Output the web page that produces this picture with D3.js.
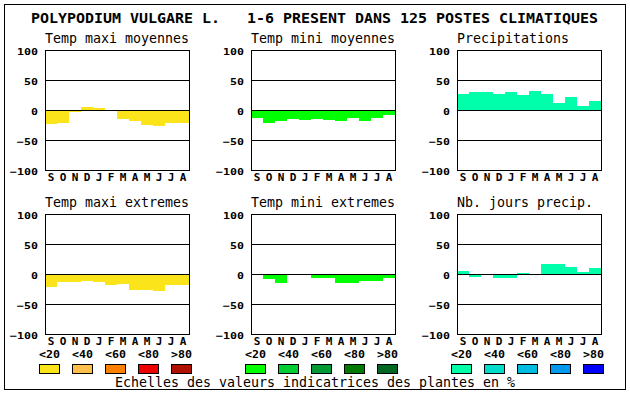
<!DOCTYPE html>
<html><head><meta charset="utf-8">
<script src="https://cdn.jsdelivr.net/npm/d3@7"></script>
<style>
html,body{margin:0;padding:0;background:#fff;}
svg{display:block;}
text{font-family:"DejaVu Sans Mono","Liberation Mono",monospace;fill:#000;}
</style></head><body>
<svg id="chart" width="630" height="394"></svg>
<script>
// ---------- data ----------
const mainTitle = "POLYPODIUM VULGARE L.   1-6 PRESENT DANS 125 POSTES CLIMATIQUES";
const months = ["S","O","N","D","J","F","M","A","M","J","J","A"];
const yTicks = [100, 50, 0, -50, -100];
const gridValues = [50, 0, -50];

const panelTitles = ["Temp maxi moyennes","Temp mini moyennes","Precipitations",
                     "Temp maxi extremes","Temp mini extremes","Nb. jours precip."];
const tempMaxiMoyennes = [-23,-21,-3,5,3,0,-15,-18,-25,-27,-22,-22];
const tempMiniMoyennes = [-13,-22,-18,-15,-17,-15,-17,-18,-13,-18,-13,-8];
const precipitations   = [27,30,30,27,30,25,32,27,12,22,7,15];
const tempMaxiExtremes = [-22,-13,-13,-12,-13,-18,-17,-27,-27,-28,-18,-18];
const tempMiniExtremes = [0,-8,-15,0,0,-7,-7,-15,-15,-12,-12,-7];
const nbJoursPrecip    = [5,-5,-2,-7,-7,2,0,17,17,12,3,10];

const legendLabels = ["<20","<40","<60","<80",">80"];
const warmColors  = ["#fbe51a","#ffbf4c","#ff7f00","#ee0000","#b01000"];
const greenColors = ["#00ff00","#00cc33","#009933","#007a00","#006622"];
const blueColors  = ["#00ffaa","#00dccc","#00bbe0","#0099ee","#0000ff"];
const footerText = "Echelles des valeurs indicatrices des plantes en %";

// ---------- layout ----------
const svg = d3.select("#chart");
const colX = [45, 251, 457];
const rowY = [50, 214];
const plotW = 144, plotH = 120;
const palettes = [warmColors, greenColors, blueColors];
const seriesList = [tempMaxiMoyennes, tempMiniMoyennes, precipitations,
                    tempMaxiExtremes, tempMiniExtremes, nbJoursPrecip];

// outer frame
svg.append("rect").attr("x",4.5).attr("y",4.5).attr("width",621).attr("height",385)
  .attr("fill","none").attr("stroke","#000");

// main title
svg.append("text").attr("x",31).attr("y",23)
  .attr("font-size",14.5).attr("font-weight","bold")
  .attr("textLength",567).attr("lengthAdjust","spacingAndGlyphs")
  .attr("xml:space","preserve").style("white-space","pre")
  .text(mainTitle);

seriesList.forEach((values, k) => {
  const col = k % 3, row = Math.floor(k / 3);
  const x0 = colX[col], y0 = rowY[row];
  const x = d3.scaleBand().domain(d3.range(12)).range([x0, x0 + plotW]).padding(0);
  const y = d3.scaleLinear().domain([-100, 100]).range([y0 + plotH, y0]);
  const g = svg.append("g");

  // bars
  g.selectAll("rect.bar").data(values).join("rect")
    .attr("class","bar")
    .attr("x",(d,i)=>x(i)).attr("width",x.bandwidth())
    .attr("y",d=>y(Math.max(0,d))).attr("height",d=>Math.abs(y(d)-y(0)))
    .attr("fill",palettes[col][0]).attr("shape-rendering","crispEdges");

  // grid lines
  g.selectAll("line.grid").data(gridValues).join("line")
    .attr("x1",x0).attr("x2",x0+plotW)
    .attr("y1",d=>y(d)+0.5).attr("y2",d=>y(d)+0.5)
    .attr("stroke","#000").attr("shape-rendering","crispEdges");

  // plot frame
  g.append("rect").attr("x",x0+0.5).attr("y",y0+0.5)
    .attr("width",plotW).attr("height",plotH)
    .attr("fill","none").attr("stroke","#000").attr("shape-rendering","crispEdges");

  // y axis
  const ya = g.append("g").attr("transform",`translate(${x0},0.5)`)
    .call(d3.axisLeft(y).tickValues(yTicks).tickSize(0).tickPadding(7).tickFormat(d3.format("d")));
  ya.select(".domain").remove();
  ya.selectAll("text").attr("font-size",9.5).attr("font-weight","bold")
    .attr("font-family",null).attr("dy",3.5)
    .attr("textLength",function(){return this.textContent.length*7;})
    .attr("lengthAdjust","spacingAndGlyphs");

  // x axis
  const xa = g.append("g").attr("transform",`translate(0,${y0+plotH})`)
    .call(d3.axisBottom(x).tickSize(0).tickFormat(i=>months[i]));
  xa.select(".domain").remove();
  xa.selectAll("text").attr("font-size",11).attr("font-weight","bold")
    .attr("font-family",null).attr("y",11).attr("dy",0);

  // panel title
  g.append("text").attr("x",x0).attr("y",y0-7)
    .attr("font-size",13.3)
    .attr("textLength",panelTitles[k].length*8).attr("lengthAdjust","spacingAndGlyphs")
    .text(panelTitles[k]);
});

// legends
const lx = d3.scaleLinear().domain([0,4]).range([0,132]);
palettes.forEach((pal, gi) => {
  const gx = colX[gi] - 6;
  const lg = svg.append("g");
  lg.selectAll("text").data(legendLabels).join("text")
    .attr("x",(d,i)=>gx+lx(i)).attr("y",358)
    .attr("font-size",10).attr("font-weight","bold")
    .attr("textLength",21).attr("lengthAdjust","spacingAndGlyphs")
    .text(d=>d);
  lg.selectAll("rect").data(pal).join("rect")
    .attr("x",(d,i)=>Math.round(gx+lx(i))+0.5).attr("y",364.5)
    .attr("width",20).attr("height",9)
    .attr("fill",d=>d).attr("stroke","#000").attr("shape-rendering","crispEdges");
});

// footer
svg.append("text").attr("x",115).attr("y",387)
  .attr("font-size",13.3)
  .attr("textLength",footerText.length*8).attr("lengthAdjust","spacingAndGlyphs")
  .text(footerText);
</script>
</body></html>
